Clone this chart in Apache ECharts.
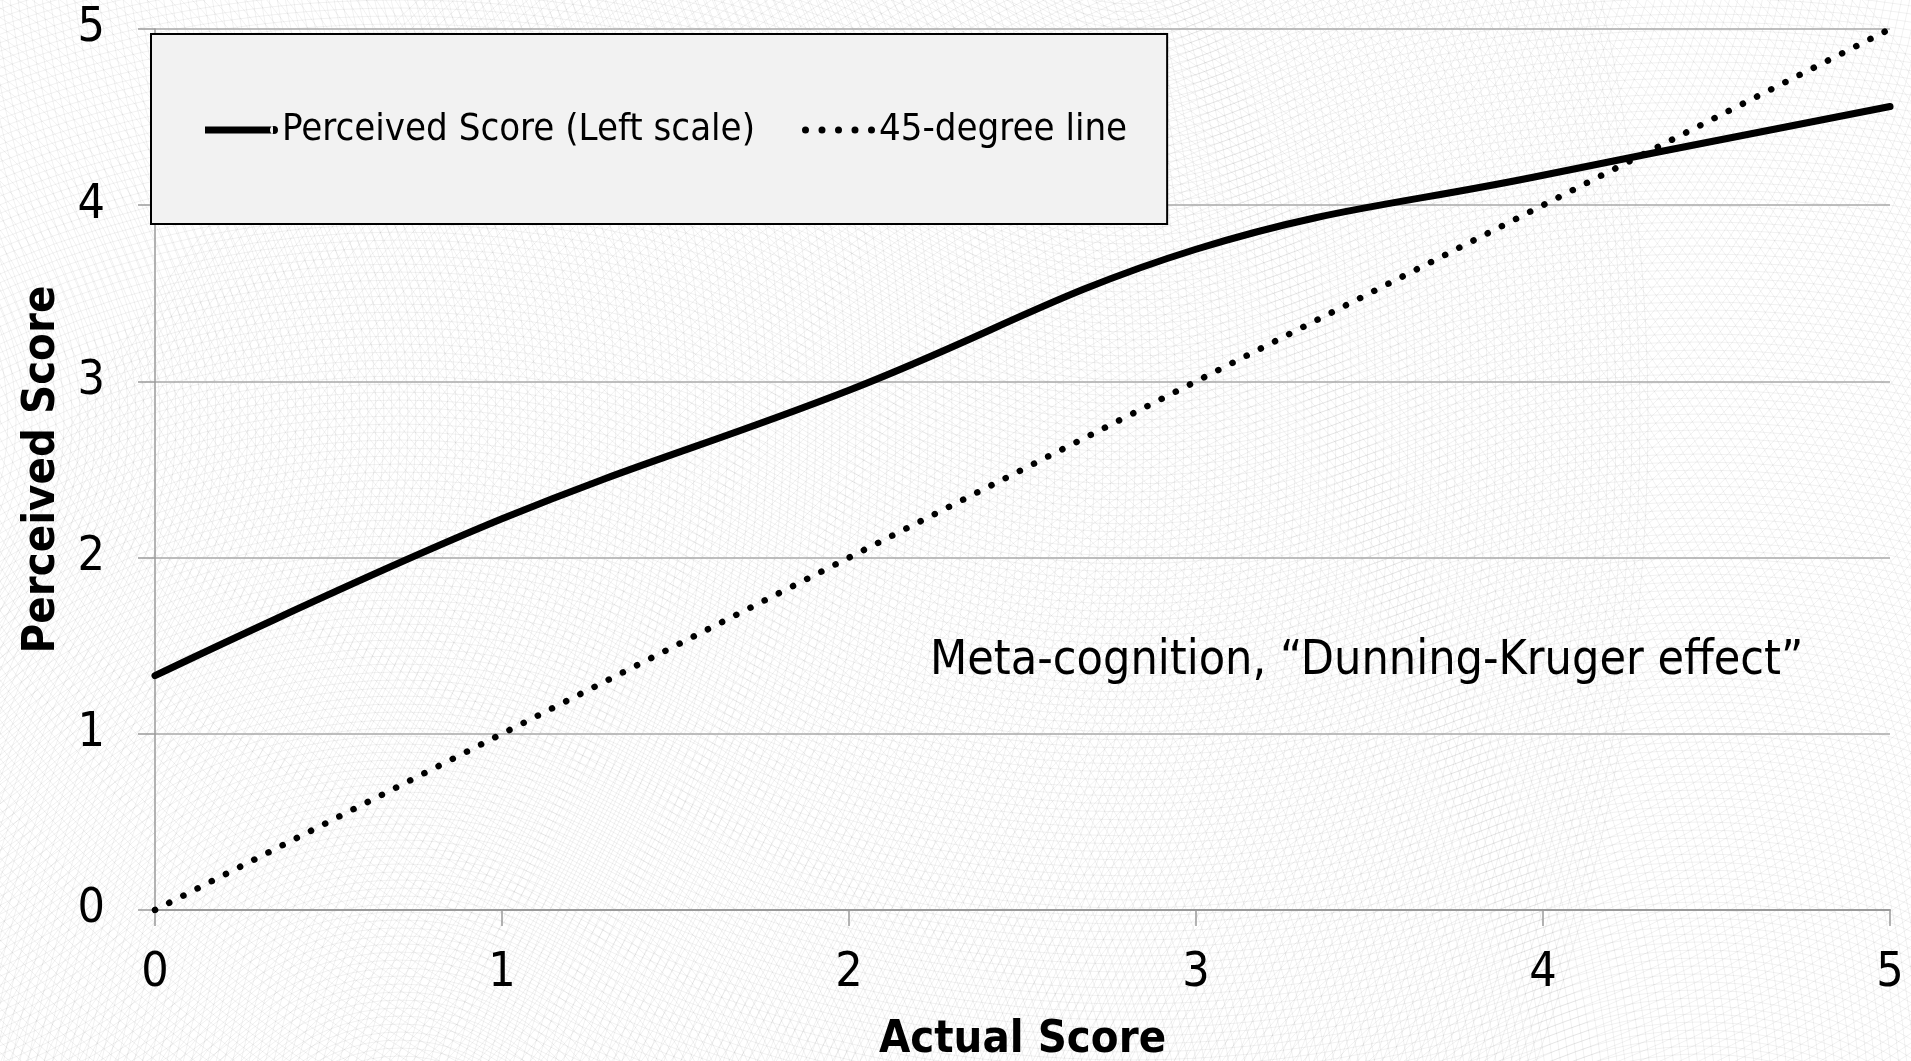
<!DOCTYPE html>
<html>
<head>
<meta charset="utf-8">
<title>Perceived vs Actual Score</title>
<script src="https://cdn.jsdelivr.net/npm/echarts@6/dist/echarts.min.js"></script>
<style>
  html, body { margin: 0; padding: 0; background: #ffffff; }
  #chart { width: 1911px; height: 1061px; }
</style>
</head>
<body>
<div id="chart"></div>
<script>
// Actual score (x) and the mean self-assessed score at each level
const actualScore = [0, 1, 2, 3, 4, 5];
const perceivedScore = [1.33, 2.22, 2.95, 3.75, 4.17, 4.56];
// Reference diagonal: perceived equals actual
const diagonalScore = [0, 1, 2, 3, 4, 5];

const seriesNames = ['Perceived Score (Left scale)', '45-degree line'];
const xTickValues = [0, 1, 2, 3, 4, 5];
const yTickValues = [0, 1, 2, 3, 4, 5];
const annotationText = 'Meta-cognition, \u201cDunning-Kruger effect\u201d';

const FONT = '"DejaVu Sans Condensed", "DejaVu Sans", "Noto Sans", sans-serif';

// Legend swatches: a thick bar with a round end, and a row of dots
function dotRow(n, step, r) {
  let d = '';
  for (let i = 0; i < n; i++) {
    const cx = r + i * step;
    d += 'M' + (cx - r) + ',' + r + 'a' + r + ',' + r + ' 0 1,0 ' + (2 * r) + ',0a' + r + ',' + r + ' 0 1,0 ' + (-2 * r) + ',0Z';
  }
  return 'path://' + d;
}
const solidIcon = 'path://M0,0.5H68V7.5H0Z M65,4a4,4 0 1,0 8,0a4,4 0 1,0 -8,0Z';
const dottedIcon = dotRow(5, 16.5, 3.5);

// Faint concentric-ring texture behind the chart
function ringTexture() {
  const centers = [[400, 1210], [1700, 1400], [1130, -150], [-250, 420]];
  const out = [];
  centers.forEach(function (c) {
    for (let r = 10; r < 1900; r += 8) {
      out.push({
        type: 'circle',
        silent: true,
        z: -10,
        shape: { cx: c[0], cy: c[1], r: r },
        style: { fill: null, stroke: 'rgba(0,0,0,0.055)', lineWidth: 1 }
      });
    }
  });
  return out;
}

const pairs = (xs, ys) => xs.map((x, i) => [x, ys[i]]);

const chart = echarts.init(document.getElementById('chart'), null, { renderer: 'canvas' });

chart.setOption({
  backgroundColor: '#ffffff',
  animation: false,
  textStyle: { fontFamily: FONT },
  graphic: ringTexture().concat([{
    type: 'text',
    left: 930,
    top: 638,
    z: 5,
    style: { text: annotationText, font: '48px ' + FONT, fill: '#000' }
  }]),
  grid: {
    left: 155, right: 21, top: 29, bottom: 151,
    containLabel: false,
    outerBoundsMode: 'none'
  },
  legend: {
    data: [
      { name: seriesNames[0], icon: solidIcon },
      { name: seriesNames[1], icon: dottedIcon }
    ],
    left: 151,
    top: 34,
    orient: 'horizontal',
    padding: [77, 40, 75, 54],
    itemGap: 47,
    itemWidth: 73,
    itemHeight: 40,
    symbolKeepAspect: true,
    backgroundColor: '#f2f2f2',
    borderColor: '#000',
    borderWidth: 2,
    textStyle: { fontFamily: FONT, fontSize: 38, color: '#000', padding: [0, 0, 0, -1] },
    z: 6
  },
  xAxis: {
    type: 'value',
    min: 0,
    max: 5,
    interval: 1,
    name: 'Actual Score',
    nameLocation: 'middle',
    nameGap: 108,
    nameTextStyle: { fontFamily: FONT, fontSize: 45, fontWeight: 'bold', color: '#000' },
    axisLine: { show: true, lineStyle: { color: '#9a9a9a', width: 2 } },
    axisTick: { show: true, length: 16, lineStyle: { color: '#9a9a9a', width: 1.5 } },
    axisLabel: {
      fontFamily: FONT, fontSize: 48, color: '#000', margin: 40,
      formatter: v => (xTickValues.indexOf(v) >= 0 ? String(v) : '')
    },
    splitLine: { show: false }
  },
  yAxis: {
    type: 'value',
    min: 0,
    max: 5,
    interval: 1,
    name: 'Perceived Score',
    nameLocation: 'middle',
    nameGap: 90,
    nameTextStyle: { fontFamily: FONT, fontSize: 45, fontWeight: 'bold', color: '#000' },
    axisLine: { show: true, lineStyle: { color: '#9a9a9a', width: 1.5 } },
    axisTick: { show: true, length: 17, lineStyle: { color: '#9a9a9a', width: 1.5 } },
    axisLabel: {
      fontFamily: FONT, fontSize: 48, color: '#000', margin: 50,
      formatter: v => (yTickValues.indexOf(v) >= 0 ? String(v) : '')
    },
    splitLine: { show: true, lineStyle: { color: '#a8a8a8', width: 1.5 } }
  },
  series: [
    {
      name: seriesNames[0],
      type: 'line',
      data: pairs(actualScore, perceivedScore),
      smooth: 0.4,
      showSymbol: false,
      symbol: 'none',
      lineStyle: { color: '#000', width: 7, cap: 'round' },
      itemStyle: { color: '#000' },
      z: 3
    },
    {
      name: seriesNames[1],
      type: 'line',
      data: pairs(actualScore, diagonalScore),
      showSymbol: false,
      symbol: 'none',
      lineStyle: { color: '#000', width: 6.5, type: [0.1, 15.8], cap: 'round' },
      itemStyle: { color: '#000' },
      z: 3
    }
  ]
});
</script>
</body>
</html>
